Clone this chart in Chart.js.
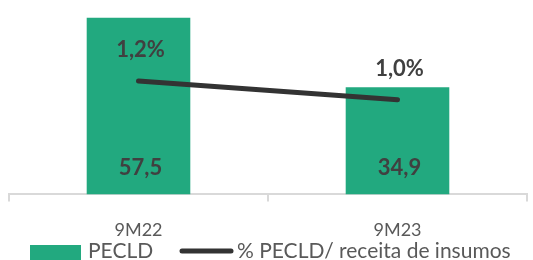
<!DOCTYPE html>
<html>
<head>
<meta charset="utf-8">
<script src="https://cdn.jsdelivr.net/npm/chart.js@4/dist/chart.umd.min.js"></script>
<style>
    html, body { margin: 0; padding: 0; background: #fff; }
    #wrap { width: 533px; height: 260px; }
</style>
</head>
<body>
<div id="wrap"><canvas id="pecld"></canvas></div>
<script>
    "use strict";

    // data
    var periodos = ["9M22", "9M23"];
    var pecld = [57.5, 34.9];
    var pecldPct = [1.2, 1.0];
    var pecldLabels = ["57,5", "34,9"];
    var pctLabels = ["1,2%", "1,0%"];

    var verde = "#22A97F";
    var cinza = "#333333";
    var texto = "#404040";
    var fonte = "Lato, 'Liberation Sans', sans-serif";

    // value labels (meta 0 = line, meta 1 = bars)
    var rotulos = {
        id: "rotulos",
        afterDatasetsDraw: function (chart) {
            var ctx = chart.ctx;
            ctx.save();
            ctx.font = "bold 22px " + fonte;
            ctx.fillStyle = texto;
            ctx.textAlign = "center";
            ctx.textBaseline = "middle";
            chart.getDatasetMeta(1).data.forEach(function (bar, i) {
                ctx.fillText(pecldLabels[i], bar.x + 2, bar.base - 26);
            });
            chart.getDatasetMeta(0).data.forEach(function (pt, i) {
                ctx.fillText(pctLabels[i], pt.x + 2, pt.y - 31);
            });
            ctx.restore();
        }
    };

    // legend at the bottom
    var legenda = {
        id: "legenda",
        afterDraw: function (chart) {
            var ctx = chart.ctx;
            var y = 251;
            ctx.save();
            ctx.font = "21px " + fonte;
            ctx.textBaseline = "middle";
            ctx.fillStyle = verde;
            ctx.fillRect(30, 245, 51, 15);
            ctx.fillStyle = "#595959";
            ctx.fillText(chart.data.datasets[1].label, 88, y);
            ctx.strokeStyle = cinza;
            ctx.lineWidth = 5;
            ctx.lineCap = "round";
            ctx.beginPath();
            ctx.moveTo(182, y);
            ctx.lineTo(231, y);
            ctx.stroke();
            ctx.fillText(chart.data.datasets[0].label, 237, y);
            ctx.restore();
        }
    };

    var ctx1 = document.getElementById("pecld").getContext("2d");
    var grafico = new Chart(ctx1, {
        data: {
            labels: periodos,
            datasets: [{
                type: "line",
                label: "% PECLD/ receita de insumos",
                data: pecldPct,
                yAxisID: "y2",
                borderColor: cinza,
                borderWidth: 5,
                borderCapStyle: "round",
                pointRadius: 0,
                fill: false,
                order: 0
            },
            {
                type: "bar",
                label: "PECLD",
                data: pecld,
                yAxisID: "y",
                backgroundColor: verde,
                barPercentage: 0.4,
                categoryPercentage: 1,
                order: 1
            }]
        },
        options: {
            responsive: true,
            maintainAspectRatio: false,
            animation: false,
            layout: { padding: { top: 10, left: 9, right: 6, bottom: 1 } },
            plugins: {
                legend: { display: false },
                tooltip: { enabled: false }
            },
            scales: {
                x: {
                    grid: {
                        display: true,
                        offset: true,
                        drawOnChartArea: false,
                        tickLength: 7,
                        color: "#d9d9d9",
                        lineWidth: 2
                    },
                    border: { display: true, color: "#d9d9d9", width: 2 },
                    ticks: {
                        padding: 18,
                        color: "#595959",
                        font: { family: fonte, size: 18 }
                    }
                },
                y: { display: false, min: 0, max: 60 },
                y2: { display: false, min: 0, max: 1.95 }
            }
        },
        plugins: [rotulos, legenda]
    });
</script>
</body>
</html>
